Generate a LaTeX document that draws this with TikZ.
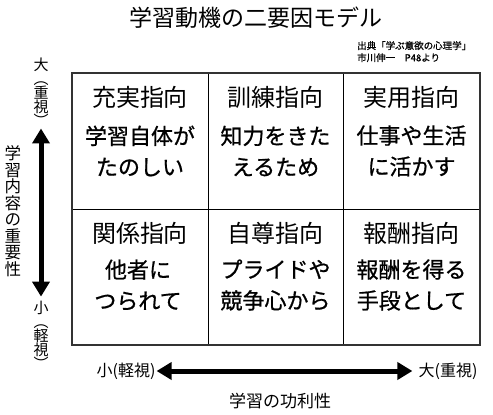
\documentclass[tikz,border=0pt]{standalone}
\usepackage{fontspec}
\usetikzlibrary{arrows.meta}
\newfontfamily\jp{Noto Sans CJK JP}
\newfontfamily\jpb[FakeBold=0.8]{Noto Sans CJK JP}
\tikzset{
  head/.style={font=\jp\fontsize{24}{24}\selectfont, inner sep=0pt},
  body/.style={font=\jpb\fontsize{22}{31}\selectfont, align=center, inner sep=0pt},
  vlab/.style={font=\jp\fontsize{15}{14}\selectfont, align=center, inner sep=0pt},
  hlab/.style={font=\jp\fontsize{16}{16}\selectfont, inner sep=0pt},
  axis/.style={line width=5pt, {Triangle[length=15pt,width=17pt]}-{Triangle[length=15pt,width=17pt]}},
}
\begin{document}
\begin{tikzpicture}[x=1pt,y=-1pt]
		\useasboundingbox (0,0) rectangle (493,415);
		
		\node[font=\jp\fontsize{23}{23}\selectfont] (title) at (256,18) {学習動機の二要因モデル};
		\node[font=\jpb\fontsize{9.5}{12}\selectfont, align=left, anchor=north west, inner sep=0pt] (src) at (357,41) {出典「学ぶ意欲の心理学」\\市川伸一　P48より};
		
		% grid
		\draw (208,73) -- (208,345);
		\draw (343,73) -- (343,345);
		\draw (72,209) -- (480,209);
		\draw[line width=2pt, black!80] (72,73) rectangle (480,345);
		
		\node[head] (h1) at (140,97) {充実指向};
		\node[head] (h2) at (275.5,97) {訓練指向};
		\node[head] (h3) at (411.5,97) {実用指向};
		\node[head] (h4) at (140,233) {関係指向};
		\node[head] (h5) at (275.5,233) {自尊指向};
		\node[head] (h6) at (411.5,233) {報酬指向};
		
		\node[body] (b1) at (140,151) {学習自体が\\たのしい};
		\node[body] (b2) at (275.5,151) {知力をきた\\えるため};
		\node[body] (b3) at (411.5,151) {仕事や生活\\に活かす};
		\node[body] (b4) at (138,285) {他者に\\つられて};
		\node[body] (b5) at (275.5,285) {プライドや\\競争心から};
		\node[body] (b6) at (411.5,285) {報酬を得る\\手段として};
		
		% vertical axis
		\node[vlab] (ltop) at (41,92) {大\\︵\\重\\視\\︶};
		\node[vlab] (lbot) at (41,335) {小\\︵\\軽\\視\\︶};
		\node[font=\jp\fontsize{16.5}{16.5}\selectfont, align=center, inner sep=0pt] (lname) at (13,211) {学\\習\\内\\容\\の\\重\\要\\性};
		\draw[axis, shorten <=2pt, shorten >=4pt] (ltop.south) -- (lbot.north);
		
		% horizontal axis
		\node[hlab] (bsmall) at (126,371) {小(軽視)};
		\node[hlab] (bbig) at (448,371) {大(重視)};
		\node[font=\jp\fontsize{17}{17}\selectfont] (bname) at (280,401) {学習の功利性};
		\draw[axis, shorten <=1pt, shorten >=6pt] (bsmall.east) -- (bbig.west);
	\end{tikzpicture}
\end{document}
